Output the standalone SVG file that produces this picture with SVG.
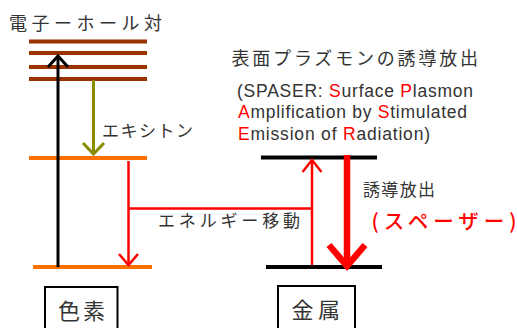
<svg xmlns="http://www.w3.org/2000/svg" width="517" height="328" viewBox="0 0 517 328">
<style>
.jp{font-family:"Noto Sans CJK JP","Liberation Sans",sans-serif;fill:#333}
.en{font-family:"Liberation Sans",Arial,sans-serif;fill:#333;font-size:17.5px}
.r{fill:#ff0000}
.lvB{stroke:#993300;stroke-width:4}
.lvO{stroke:#ff7000;stroke-width:4}
.lvK{stroke:#000;stroke-width:4}
.box{fill:#fff;stroke:#000;stroke-width:2}
.ar{fill:none;stroke-linecap:butt;stroke-linejoin:miter}
</style>
<rect width="517" height="328" fill="#fff"/>
<g id="pigment">
  <line class="lvB" x1="29" y1="41.5" x2="147" y2="41.5"/>
  <line class="lvB" x1="29" y1="53" x2="147" y2="53"/>
  <line class="lvB" x1="29" y1="67" x2="147" y2="67"/>
  <line class="lvB" x1="29" y1="79" x2="147" y2="79"/>
  <line class="lvO" x1="29" y1="158" x2="147" y2="158"/>
  <line class="lvO" x1="33" y1="267" x2="152" y2="267"/>
  <rect class="box" x="45" y="287" width="72.5" height="50"/>
  <text class="jp" x="58" y="319" font-size="22" textLength="47" lengthAdjust="spacing">色素</text>
</g>
<g id="metal">
  <line class="lvK" x1="261" y1="157.5" x2="377" y2="157.5"/>
  <line class="lvK" x1="266" y1="267" x2="382" y2="267"/>
  <rect class="box" x="278" y="286" width="77" height="50"/>
  <text class="jp" x="291.5" y="318" font-size="22" textLength="48.5" lengthAdjust="spacing">金属</text>
</g>
<g id="connectors" class="ar">
  <g id="excitation" stroke="#000" stroke-width="3">
    <line x1="58" y1="267" x2="58" y2="56"/>
    <polyline points="48,67 58,56 68,67"/>
  </g>
  <g id="exciton" stroke="#8b8b00" stroke-width="3">
    <line x1="93.5" y1="80" x2="93.5" y2="154"/>
    <polyline points="83,143 93.5,154 104,143"/>
  </g>
  <g id="transfer" stroke="#ff0000" stroke-width="2.5">
    <line x1="128.5" y1="161" x2="128.5" y2="265"/>
    <polyline points="119,254 128.5,265 138,254"/>
    <line x1="128.5" y1="208.5" x2="312" y2="208.5"/>
    <line x1="312" y1="265" x2="312" y2="160"/>
    <polyline points="302.5,172 312,160 321.5,172"/>
  </g>
  <g id="spaser" stroke="#ff0000" stroke-width="6.5">
    <line x1="347" y1="155" x2="347" y2="265"/>
    <polyline points="329,245 347,266 365,245"/>
  </g>
</g>
<g id="labels">
  <text class="jp" x="9" y="30" font-size="18" textLength="153" lengthAdjust="spacing">電子ーホール対</text>
  <text class="jp" x="102" y="137" font-size="17" textLength="91" lengthAdjust="spacing">エキシトン</text>
  <text class="jp" x="231.5" y="65" font-size="18" textLength="246.5" lengthAdjust="spacing">表面プラズモンの誘導放出</text>
  <text class="en" x="237" y="96.5" textLength="236" lengthAdjust="spacing">(SPASER: <tspan class="r">S</tspan>urface <tspan class="r">P</tspan>lasmon</text>
  <text class="en" x="238" y="118" textLength="229" lengthAdjust="spacing"><tspan class="r">A</tspan>mplification by <tspan class="r">S</tspan>timulated</text>
  <text class="en" x="238" y="140" textLength="192" lengthAdjust="spacing"><tspan class="r">E</tspan>mission of <tspan class="r">R</tspan>adiation)</text>
  <text class="jp" x="158" y="227" font-size="17" textLength="142" lengthAdjust="spacing">エネルギー移動</text>
  <text class="jp" x="363" y="196" font-size="17" textLength="72" lengthAdjust="spacing">誘導放出</text>
  <text class="jp r" x="371.5" y="229" font-size="20.5" font-weight="500" textLength="145" lengthAdjust="spacing">(スペーザー)</text>
</g>
</svg>
